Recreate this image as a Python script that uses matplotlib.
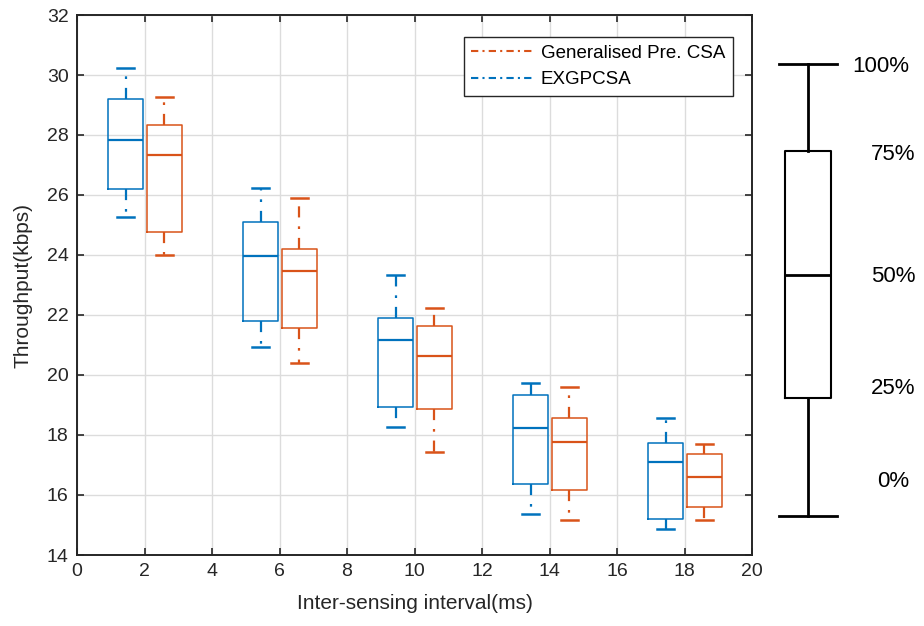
import matplotlib
matplotlib.use("Agg")
import matplotlib.pyplot as plt
from matplotlib.lines import Line2D

plt.rcParams['font.family'] = ['Liberation Sans', 'DejaVu Sans']

# inter-sensing interval groups (ms)
groups = [2, 6, 10, 14, 18]

# EXGPCSA box statistics (kbps)
ex_low = [25.28, 20.94, 18.28, 15.38, 14.88]
ex_q1 = [26.20, 21.79, 18.94, 16.38, 15.21]
ex_med = [27.84, 23.98, 21.18, 18.24, 17.10]
ex_q3 = [29.20, 25.11, 21.89, 19.33, 17.73]
ex_high = [30.23, 26.24, 23.34, 19.73, 18.58]

# Generalised Pre. CSA box statistics (kbps)
gp_low = [24.01, 20.41, 17.44, 15.18, 15.18]
gp_q1 = [24.77, 21.56, 18.86, 16.17, 15.59]
gp_med = [27.34, 23.46, 20.64, 17.77, 16.60]
gp_q3 = [28.34, 24.19, 21.64, 18.58, 17.36]
gp_high = [29.28, 25.91, 22.24, 19.60, 17.70]

# schematic key on the right
key_levels = [0, 26.0, 53.4, 80.7, 100]
key_labels = ['0%', '25%', '50%', '75%', '100%']

BLUE = '#0072BD'
ORANGE = '#D95319'
DASHDOT = (0, (5, 4, 1.2, 4))


def make_stats(low, q1, med, q3, high):
    return [dict(whislo=a, q1=b, med=c, q3=d, whishi=e, fliers=[])
            for a, b, c, d, e in zip(low, q1, med, q3, high)]


def draw_boxes(ax, stats, positions, color):
    ax.bxp(stats, positions=positions, widths=1.04, capwidths=0.52,
           showfliers=False, manage_ticks=False,
           boxprops=dict(color=color, linewidth=1.1),
           medianprops=dict(color=color, linewidth=1.6),
           whiskerprops=dict(color=color, linewidth=1.6, linestyle=DASHDOT),
           capprops=dict(color=color, linewidth=1.8))


fig = plt.figure(figsize=(9.24, 6.26), dpi=100)
W, H = 924, 626
ax = fig.add_axes([77 / W, (H - 555) / H, 675 / W, 540 / H])

draw_boxes(ax, make_stats(ex_low, ex_q1, ex_med, ex_q3, ex_high),
           [g - 0.56 for g in groups], BLUE)
draw_boxes(ax, make_stats(gp_low, gp_q1, gp_med, gp_q3, gp_high),
           [g + 0.59 for g in groups], ORANGE)

ax.set_xlim(0, 20)
ax.set_ylim(14, 32)
ax.set_xticks(range(0, 21, 2))
ax.set_yticks(range(14, 33, 2))
ax.grid(True, color='#dcdcdc', linewidth=1.0)
ax.set_axisbelow(True)
ax.tick_params(direction='in', top=True, right=True, length=5, width=1.2,
               labelsize=14, colors='#262626', pad=6)
for sp in ax.spines.values():
    sp.set_linewidth(1.4)
    sp.set_color('#262626')
ax.set_xlabel('Inter-sensing interval(ms)', fontsize=15, color='#262626', labelpad=10)
ax.set_ylabel('Throughput(kbps)', fontsize=15, color='#262626', labelpad=10)

handles = [Line2D([], [], color=ORANGE, linewidth=1.5, linestyle=(0, (3.5, 2, 1, 2))),
           Line2D([], [], color=BLUE, linewidth=1.5, linestyle=(0, (3.5, 2, 1, 2)))]
leg = ax.legend(handles, ['Generalised Pre. CSA', 'EXGPCSA'], loc='upper right',
                bbox_to_anchor=(656 / 675, 518 / 540), borderaxespad=0,
                fancybox=False, edgecolor='#262626', framealpha=1,
                fontsize=13.5, handlelength=3.3, handletextpad=0.4,
                labelspacing=0.5, borderpad=0.42)
leg.get_frame().set_linewidth(1.0)

# key diagram explaining the box
kax = fig.add_axes([760 / W, (H - 516) / H, 164 / W, 452 / H])
kax.set_xlim(0, 1)
kax.set_ylim(0, 100)
kax.axis('off')
key_stats = [dict(whislo=key_levels[0], q1=key_levels[1], med=key_levels[2],
                  q3=key_levels[3], whishi=key_levels[4], fliers=[])]
parts = kax.bxp(key_stats, positions=[0.293], widths=0.28, capwidths=0.355,
                showfliers=False, manage_ticks=False,
                boxprops=dict(color='black', linewidth=1.5),
                medianprops=dict(color='black', linewidth=2.0),
                whiskerprops=dict(color='black', linewidth=2.0),
                capprops=dict(color='black', linewidth=2.0))
for artists in parts.values():
    for a in artists:
        a.set_clip_on(False)
label_x = [0.811, 0.811, 0.811, 0.811, 0.738]
label_y = [7.6, 28.3, 52.9, 79.9, 99.4]
for lx, ly, txt in zip(label_x, label_y, key_labels):
    kax.text(lx, ly, txt, ha='center', va='center', fontsize=16, clip_on=False)

fig.savefig('out.png', dpi=100)
